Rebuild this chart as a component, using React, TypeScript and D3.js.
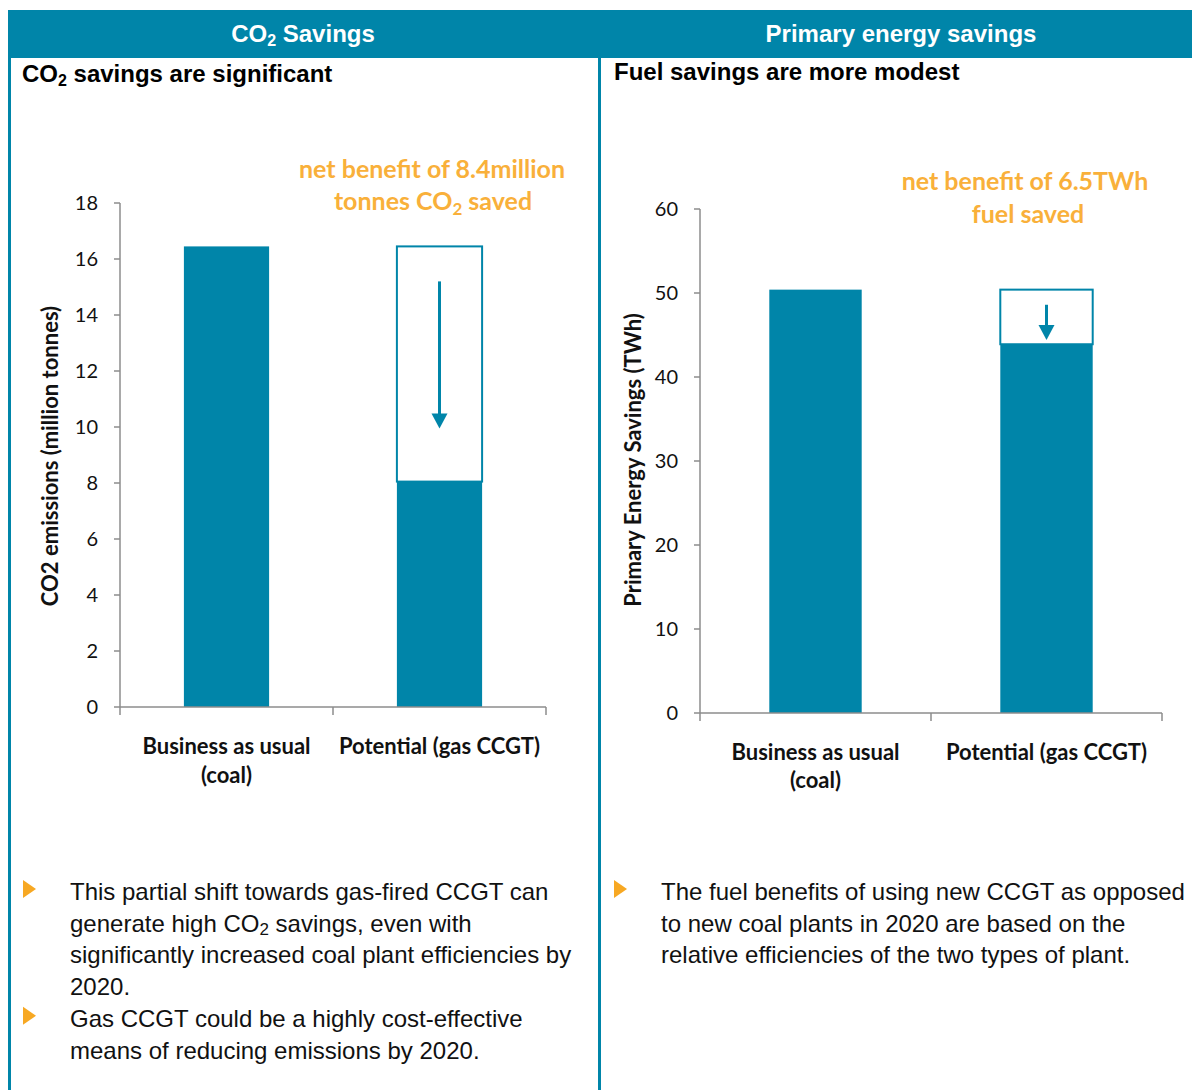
import * as d3 from 'd3'

const TEAL = '#0085a9'
const ORANGE = '#f9b03a'
const BULLET = '#f7a823'
const AXIS = '#8c8c8c'
const CHART_FONT = 'Lato, "Open Sans", sans-serif'
const TEXT_FONT = '"Liberation Sans", Arial, sans-serif'

// categories (split over lines as in the original)
const categories = ['Business as usual (coal)', 'Potential (gas CCGT)']
const categoryLines = [['Business as usual', '(coal)'], ['Potential (gas CCGT)']]

// CO2 chart
const co2Values = [16.45, 8.05]
const co2Before = 16.45
const co2Ticks = [0, 2, 4, 6, 8, 10, 12, 14, 16, 18]
const co2Arrow = [15.2, 9.95]

// primary energy chart
const energyValues = [50.4, 43.9]
const energyBefore = 50.4
const energyTicks = [0, 10, 20, 30, 40, 50, 60]
const energyArrow = [48.6, 44.4]

const leftBullets = [
  [['This partial shift towards gas-fired CCGT can'], ['generate high CO', '2', ' savings, even with'], ['significantly increased coal plant efficiencies by'], ['2020.']],
  [['Gas CCGT could be a highly cost-effective'], ['means of reducing emissions by 2020.']],
]
const rightBullets = [
  [['The fuel benefits of using new CCGT as opposed'], ['to new coal plants in 2020 are based on the'], ['relative efficiencies of the two types of plant.']],
]

type ChartProps = {
  x0: number; x1: number; yTop: number; yBottom: number
  values: number[]; before: number; ticks: number[]; arrow: number[]
  yLabel: string; labelX: number; labelY: number
  note: (string | string[])[]; noteX: number[]; noteY: number[]
  catY: number[]
}

function Chart(p: ChartProps) {
  const y = d3.scaleLinear().domain([0, p.ticks[p.ticks.length - 1]]).range([p.yBottom, p.yTop])
  const x = d3.scaleBand().domain(categories).range([p.x0, p.x1]).padding(0)
  const bw = x.bandwidth() * 0.4
  const cx = (c: string) => (x(c) as number) + x.bandwidth() / 2
  const last = categories[categories.length - 1]
  const ax = cx(last)
  return (
    <g>
      {/* bars */}
      {categories.map((c, i) => (
        <rect key={c} x={cx(c) - bw / 2} width={bw} y={y(p.values[i])} height={y(0) - y(p.values[i])} fill={TEAL} />
      ))}
      {/* saved portion outline */}
      <rect x={ax - bw / 2} width={bw} y={y(p.before)} height={y(p.values[1]) - y(p.before)}
        fill="#fff" stroke={TEAL} strokeWidth={2} />
      <line x1={ax} x2={ax} y1={y(p.arrow[0])} y2={y(p.arrow[1]) - 14} stroke={TEAL} strokeWidth={3} />
      <path d={`M${ax - 8},${y(p.arrow[1]) - 15}L${ax + 8},${y(p.arrow[1]) - 15}L${ax},${y(p.arrow[1])}Z`} fill={TEAL} />

      {/* y axis */}
      <line x1={p.x0} x2={p.x0} y1={y(p.ticks[p.ticks.length - 1])} y2={y(0)} stroke={AXIS} strokeWidth={1.5} />
      {p.ticks.map(t => (
        <g key={t}>
          <line x1={p.x0 - 6} x2={p.x0} y1={y(t)} y2={y(t)} stroke={AXIS} strokeWidth={1.5} />
          <text x={p.x0 - 22} y={y(t)} dy="0.36em" textAnchor="end" fontFamily={CHART_FONT} fontSize={20} fill="#111">{t}</text>
        </g>
      ))}
      {/* x axis */}
      <line x1={p.x0} x2={p.x1} y1={y(0)} y2={y(0)} stroke={AXIS} strokeWidth={1.5} />
      {[p.x0, ...categories.map(c => (x(c) as number) + x.bandwidth())].map((v, i) => (
        <line key={i} x1={v} x2={v} y1={y(0)} y2={y(0) + 8} stroke={AXIS} strokeWidth={1.5} />
      ))}
      {categories.map((c, i) => categoryLines[i].map((l, j) => (
        <text key={c + j} x={cx(c)} y={p.catY[j]} textAnchor="middle" fontFamily={CHART_FONT} fontWeight={700} fontSize={22} fill="#111">{l}</text>
      )))}
      <text transform={`translate(${p.labelX},${p.labelY}) rotate(-90)`} dy="0.35em" textAnchor="middle"
        fontFamily={CHART_FONT} fontWeight={700} fontSize={22} fill="#111">{p.yLabel}</text>

      {/* annotation */}
      {p.note.map((n, i) => (
        <text key={i} x={p.noteX[i]} y={p.noteY[i]} textAnchor="middle" fontFamily={CHART_FONT} fontWeight={700} fontSize={25} fill={ORANGE}>
          {Array.isArray(n)
            ? <>{n[0]}<tspan fontSize={17} dy={5}>{n[1]}</tspan><tspan dy={-5}>{n[2]}</tspan></>
            : n}
        </text>
      ))}
    </g>
  )
}

function Bullets({ items, bx, tx, y0 }: { items: string[][][]; bx: number; tx: number; y0: number }) {
  const lh = 31.7
  let row = 0
  return (
    <g>
      {items.map((lines, i) => {
        const start = row
        row += lines.length
        const by = y0 + start * lh
        return (
          <g key={i}>
            <path d={`M${bx},${by - 20}L${bx + 13},${by - 11}L${bx},${by - 2}Z`} fill={BULLET} />
            {lines.map((parts, j) => (
              <text key={j} x={tx} y={y0 + (start + j) * lh} fontFamily={TEXT_FONT} fontSize={24} fill="#111">
                {parts.length === 1 ? parts[0]
                  : <>{parts[0]}<tspan fontSize={17} dy={3}>{parts[1]}</tspan><tspan dy={-3}>{parts[2]}</tspan></>}
              </text>
            ))}
          </g>
        )
      })}
    </g>
  )
}

export default function App() {
  return (
    <svg width={1192} height={1090} style={{ position: 'absolute', left: 0, top: 0, display: 'block', background: '#fff' }}>
      {/* frame */}
      <rect x={8} y={10} width={1184} height={48} fill={TEAL} />
      <rect x={8} y={58} width={3} height={1032} fill={TEAL} />
      <rect x={598} y={58} width={3} height={1032} fill={TEAL} />
      <text x={303} y={42} textAnchor="middle" fontFamily={TEXT_FONT} fontWeight={700} fontSize={24} fill="#fff">
        CO<tspan fontSize={16} dy={4}>2</tspan><tspan dy={-4}> Savings</tspan>
      </text>
      <text x={901} y={42} textAnchor="middle" fontFamily={TEXT_FONT} fontWeight={700} fontSize={24} fill="#fff">Primary energy savings</text>
      <text x={22} y={82} fontFamily={TEXT_FONT} fontWeight={700} fontSize={24} fill="#000">
        CO<tspan fontSize={16} dy={4}>2</tspan><tspan dy={-4}> savings are significant</tspan>
      </text>
      <text x={614} y={80} fontFamily={TEXT_FONT} fontWeight={700} fontSize={24} fill="#000">Fuel savings are more modest</text>

      <Chart x0={120} x1={546} yTop={203} yBottom={707} values={co2Values} before={co2Before} ticks={co2Ticks} arrow={co2Arrow}
        yLabel="CO2 emissions (million tonnes)" labelX={50} labelY={456}
        note={['net benefit of 8.4million', ['tonnes CO', '2', ' saved']]} noteX={[432, 433]} noteY={[178, 210]}
        catY={[754, 783]} />
      <Chart x0={700} x1={1162} yTop={209} yBottom={713} values={energyValues} before={energyBefore} ticks={energyTicks} arrow={energyArrow}
        yLabel="Primary Energy Savings (TWh)" labelX={633} labelY={460}
        note={['net benefit of 6.5TWh', 'fuel saved']} noteX={[1025, 1028]} noteY={[190, 223]}
        catY={[760, 788]} />

      <Bullets items={leftBullets} bx={23} tx={70} y0={900} />
      <Bullets items={rightBullets} bx={614} tx={661} y0={900} />
    </svg>
  )
}
